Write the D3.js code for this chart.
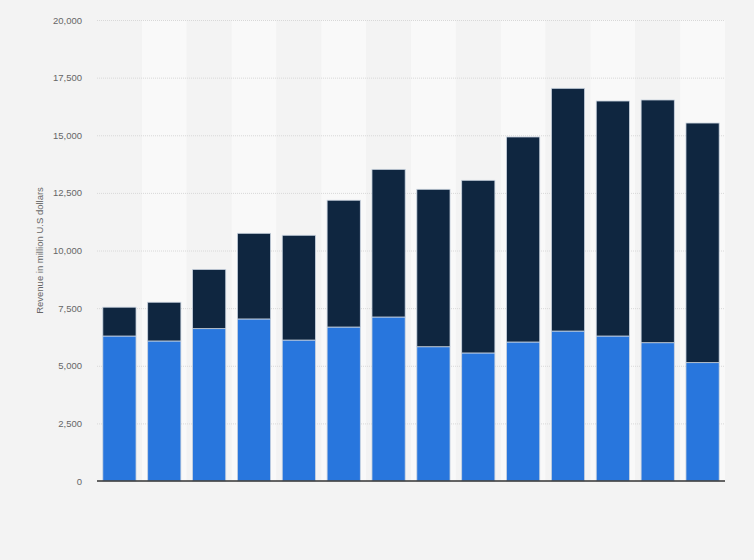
<!DOCTYPE html>
<html>
<head>
<meta charset="utf-8">
<script src="https://cdn.jsdelivr.net/npm/d3@7/dist/d3.min.js"></script>
<style>
  html, body { margin: 0; padding: 0; background: #f3f3f3; }
  svg { display: block; font-family: Arial, "Liberation Sans", sans-serif; }
</style>
</head>
<body>
<svg id="chart" width="754" height="560"></svg>
<script>
// Data, in million U.S. dollars
const categories = ["1", "2", "3", "4", "5", "6", "7", "8", "9", "10", "11", "12", "13", "14"];
const lowerSeries = [6290, 6075, 6610, 7030, 6115, 6680, 7115, 5825, 5555, 6030, 6505, 6290, 6000, 5135];
const totals = [7540, 7755, 9180, 10745, 10660, 12180, 13520, 12655, 13045, 14925, 17035, 16485, 16530, 15530];
const upperSeries = totals.map((t, i) => t - lowerSeries[i]);
const yTicks = [0, 2500, 5000, 7500, 10000, 12500, 15000, 17500, 20000];
const yLabel = "Revenue in million U.S dollars";

const svg = d3.select("#chart");
const margin = { left: 97, right: 29, top: 20, bottom: 79 };
const W = 754, H = 560;
const iw = W - margin.left - margin.right;
const ih = H - margin.top - margin.bottom;

const g = svg.append("g").attr("transform", `translate(${margin.left},${margin.top})`);

const x = d3.scaleBand().domain(categories).range([0, iw]).paddingInner(0.26).paddingOuter(0.13);
const xBand = d3.scaleBand().domain(categories).range([0, iw]).padding(0);
const y = d3.scaleLinear().domain([0, 20000]).range([ih, 0]);

// Alternating column backgrounds
g.selectAll("rect.band").data(categories).enter().append("rect")
  .attr("class", "band")
  .attr("x", d => xBand(d))
  .attr("y", 0)
  .attr("width", xBand.bandwidth())
  .attr("height", ih)
  .attr("fill", (d, i) => i % 2 === 1 ? "#f9f9f9" : "#f3f3f3");

// Gridlines
const yAxis = d3.axisLeft(y).tickValues(yTicks).tickSize(-iw).tickPadding(15)
  .tickFormat(d3.format(","));
const ya = g.append("g").call(yAxis);
ya.select(".domain").remove();
ya.selectAll(".tick line")
  .attr("stroke", "#d8d8d8")
  .attr("stroke-dasharray", "1,1")
  .attr("stroke-width", 1);
ya.selectAll(".tick text")
  .attr("fill", "#666")
  .attr("font-size", "9.5px");
ya.selectAll(".tick").filter(d => d === 0).select("line").remove();

// Stack
const stackData = categories.map((c, i) => ({ cat: c, lower: lowerSeries[i], upper: upperSeries[i] }));
const stack = d3.stack().keys(["lower", "upper"]);
const series = stack(stackData);
const colors = { lower: "#2876dd", upper: "#0f2640" };

g.selectAll("g.series").data(series).enter().append("g")
  .attr("class", "series")
  .attr("fill", d => colors[d.key])
  .selectAll("rect").data(d => d).enter().append("rect")
  .attr("x", d => x(d.data.cat))
  .attr("y", d => y(d[1]))
  .attr("width", x.bandwidth())
  .attr("height", d => y(d[0]) - y(d[1]))
  .attr("stroke", "#c9d3df")
  .attr("stroke-width", 0.8);

// Bottom axis line
g.append("line")
  .attr("x1", 0).attr("x2", iw)
  .attr("y1", ih).attr("y2", ih)
  .attr("stroke", "#333")
  .attr("stroke-width", 1.5);

// Y-axis label
svg.append("text")
  .attr("transform", `translate(43,${margin.top + ih / 2}) rotate(-90)`)
  .attr("text-anchor", "middle")
  .attr("fill", "#666")
  .attr("font-size", "9.5px")
  .text(yLabel);
</script>
</body>
</html>
